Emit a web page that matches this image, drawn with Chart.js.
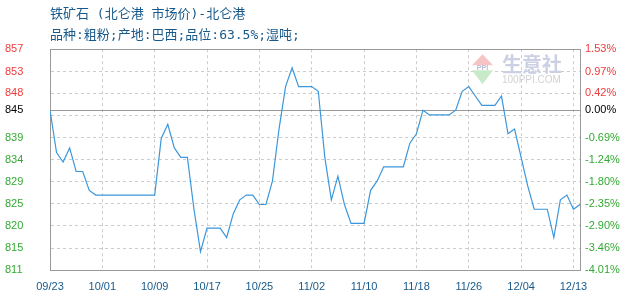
<!DOCTYPE html>
<html lang="zh">
<head>
    <meta charset="UTF-8">
    <title>铁矿石 (北仑港 市场价)-北仑港</title>
    <script src="https://cdn.jsdelivr.net/npm/chart.js"></script>
    <style>
        body { margin: 0; background: #fff; }
    </style>
</head>
<body>

    <canvas id="priceChart" width="630" height="300"></canvas>

    <script>
        // x axis: one point per day, a label every 8 points
        const xLabels = ['09/23', '10/01', '10/09', '10/17', '10/25', '11/02', '11/10', '11/18', '11/26', '12/04', '12/13'];
        const labelStep = 8;

        // daily price (yuan / wet ton)
        const prices = [
            845, 836, 834, 837, 832, 832, 828, 827, 827, 827,
            827, 827, 827, 827, 827, 827, 827, 839, 842, 837,
            835, 835, 824, 815, 820, 820, 820, 818, 823, 826,
            827, 827, 825, 825, 830, 841, 850, 854, 850, 850,
            850, 849, 835, 826, 831, 825, 821, 821, 821, 828,
            830, 833, 833, 833, 833, 838, 840, 845, 844, 844,
            844, 844, 845, 849, 850, 848, 846, 846, 846, 848,
            840, 841, 835, 829, 824, 824, 824, 818, 826, 827,
            824, 825
        ];

        // y axes: left = price, right = change vs. base price
        const basePrice = 845;
        const pctTicks = [1.53, 0.97, 0.42, 0.00, -0.69, -1.24, -1.80, -2.35, -2.90, -3.46, -4.01];
        const priceLabels = ['857', '853', '848', '845', '839', '834', '829', '825', '820', '815', '811'];
        const hiddenGridPct = -0.14;   // dashed line with no label

        const upColor = '#ee3b3b';
        const downColor = '#33aa33';
        const lineColor = '#3b97db';
        const frameColor = '#999999';
        const gridColor = '#cccccc';
        const textBlue = '#17598a';

        const tickFont = { family: '"Liberation Sans", Arial, sans-serif', size: 11 };
        const titleFont = { family: '"DejaVu Sans Mono", "Noto Sans CJK SC", monospace', size: 13, weight: 'normal' };

        function tickColor(ctx) {
            const v = ctx.tick.value;
            const base = ctx.scale.id === 'y' ? basePrice : 0;
            if (Math.abs(v - base) < 0.001) return '#000';
            return v > base ? upColor : downColor;
        }

        // solid line at the base price
        const baseLinePlugin = {
            id: 'baseLine',
            beforeDatasetsDraw(chart) {
                const { ctx, chartArea } = chart;
                const y = Math.round(chart.scales.y.getPixelForValue(basePrice)) + 0.5;
                ctx.save();
                ctx.strokeStyle = frameColor;
                ctx.lineWidth = 1;
                ctx.beginPath();
                ctx.moveTo(chartArea.left, y);
                ctx.lineTo(chartArea.right, y);
                ctx.stroke();
                ctx.restore();
            }
        };

        // 生意社 watermark
        const watermarkPlugin = {
            id: 'watermark',
            beforeDatasetsDraw(chart) {
                const { ctx, chartArea } = chart;
                const x = chartArea.right - 108;
                const y = chartArea.top + 5;
                ctx.save();
                ctx.fillStyle = '#f6c4c4';
                ctx.beginPath();
                ctx.moveTo(x + 10.5, y);
                ctx.lineTo(x + 21, y + 11);
                ctx.lineTo(x, y + 11);
                ctx.closePath();
                ctx.fill();
                ctx.fillStyle = '#c9eac9';
                ctx.beginPath();
                ctx.moveTo(x, y + 16);
                ctx.lineTo(x + 21, y + 16);
                ctx.lineTo(x + 10.5, y + 30);
                ctx.closePath();
                ctx.fill();
                ctx.fillStyle = '#b8bcd6';
                ctx.font = 'bold 7px "Liberation Sans", sans-serif';
                ctx.textAlign = 'center';
                ctx.textBaseline = 'middle';
                ctx.fillText('PPI', x + 10.5, y + 14);
                ctx.textAlign = 'left';
                ctx.fillStyle = '#ccd0e4';
                ctx.font = 'bold 20px "Noto Sans CJK SC", sans-serif';
                ctx.fillText('生意社', x + 30, y + 10);
                ctx.fillStyle = '#d2d2d2';
                ctx.font = '10px "Liberation Sans", sans-serif';
                ctx.fillText('100PPI.COM', x + 30, y + 26);
                ctx.restore();
            }
        };

        const ctx = document.getElementById('priceChart').getContext('2d');

        new Chart(ctx, {
            type: 'line',
            data: {
                datasets: [{
                    data: prices.map((p, i) => ({ x: i, y: p })),
                    borderColor: lineColor,
                    borderWidth: 1.2,
                    pointRadius: 0,
                    tension: 0,
                    fill: false
                }]
            },
            options: {
                responsive: false,
                animation: false,
                layout: { padding: { left: 5, right: 0, top: 0, bottom: 0 } },
                plugins: {
                    legend: { display: false },
                    tooltip: { enabled: false },
                    title: {
                        display: true,
                        text: '铁矿石 (北仑港 市场价)-北仑港',
                        align: 'start',
                        fullSize: false,
                        color: textBlue,
                        font: titleFont,
                        padding: { top: 7, bottom: 5 }
                    },
                    subtitle: {
                        display: true,
                        text: '品种:粗粉;产地:巴西;品位:63.5%;湿吨;',
                        align: 'start',
                        fullSize: false,
                        color: textBlue,
                        font: titleFont,
                        padding: { top: 0, bottom: 6 }
                    }
                },
                scales: {
                    x: {
                        type: 'linear',
                        position: 'bottom',
                        min: 0,
                        max: prices.length - 1,
                        afterBuildTicks: (scale) => {
                            scale.ticks = xLabels.map((l, i) => ({ value: i * labelStep }));
                        },
                        afterFit: (scale) => { scale.height = 30; },
                        grid: { color: gridColor, drawTicks: false },
                        border: { color: frameColor, dash: [3, 3] },
                        ticks: {
                            autoSkip: false,
                            maxRotation: 0,
                            padding: 10,
                            color: textBlue,
                            font: tickFont,
                            callback: (v, i) => xLabels[i]
                        }
                    },
                    xTop: {
                        type: 'linear',
                        position: 'top',
                        min: 0,
                        max: prices.length - 1,
                        afterFit: (scale) => { scale.height = 0; },
                        grid: { display: false },
                        border: { color: frameColor },
                        ticks: { display: false }
                    },
                    y: {
                        type: 'linear',
                        position: 'left',
                        min: basePrice * (1 + pctTicks[pctTicks.length - 1] / 100),
                        max: basePrice * (1 + pctTicks[0] / 100),
                        afterBuildTicks: (scale) => {
                            const t = pctTicks.map((p, i) => ({ value: basePrice * (1 + p / 100), lbl: priceLabels[i] }));
                            t.push({ value: basePrice * (1 + hiddenGridPct / 100), lbl: '' });
                            scale.ticks = t;
                        },
                        afterFit: (scale) => { scale.width = 45; },
                        grid: {
                            drawTicks: false,
                            color: (c) => Math.abs(c.tick.value - basePrice) < 0.001 ? 'rgba(0,0,0,0)' : gridColor
                        },
                        border: { color: frameColor, dash: [3, 3] },
                        ticks: {
                            autoSkip: false,
                            crossAlign: 'far',
                            font: tickFont,
                            color: tickColor,
                            callback: (v, i, ticks) => ticks[i].lbl
                        }
                    },
                    y2: {
                        type: 'linear',
                        position: 'right',
                        min: pctTicks[pctTicks.length - 1],
                        max: pctTicks[0],
                        afterBuildTicks: (scale) => {
                            scale.ticks = pctTicks.map(p => ({ value: p }));
                        },
                        afterFit: (scale) => { scale.width = 50; },
                        grid: { display: false, drawTicks: false },
                        border: { color: frameColor },
                        ticks: {
                            autoSkip: false,
                            padding: 5,
                            font: tickFont,
                            color: tickColor,
                            callback: (v, i) => pctTicks[i].toFixed(2) + '%'
                        }
                    }
                }
            },
            plugins: [baseLinePlugin, watermarkPlugin]
        });
    </script>

</body>
</html>
